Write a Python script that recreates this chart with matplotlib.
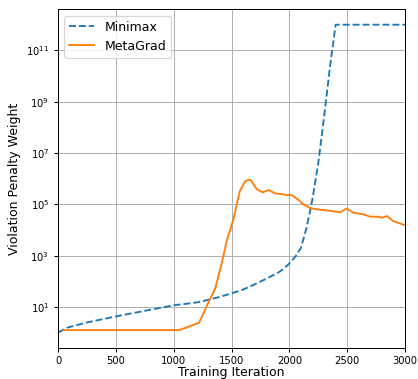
"""Violation penalty weight vs training iteration."""
import matplotlib
matplotlib.use("Agg")
import matplotlib.pyplot as plt
import numpy as np

# Minimax
minimax_iter = [0, 75, 250, 500, 750, 1000, 1100, 1200, 1300, 1400, 1500, 1600,
                1700, 1800, 1900, 1950, 2000, 2050, 2100, 2150, 2200, 2250, 2300,
                2350, 2400, 3000]
minimax_val = [1.0, 1.55, 2.5, 4.3, 7.1, 11.7, 13.2, 15.1, 19, 25, 34, 48,
               76, 126, 214, 302, 500, 890, 2000, 1.26e4, 1.6e5, 4e6, 2.5e8,
               2e10, 1e12, 1e12]

# MetaGrad
metagrad_iter = [50, 1050, 1220, 1310, 1360, 1415, 1460, 1515, 1570, 1615, 1640,
                 1665, 1720, 1770, 1820, 1875, 1935, 1975, 2020, 2080, 2120, 2190,
                 2250, 2350, 2440, 2495, 2555, 2640, 2700, 2770, 2800, 2845, 2900,
                 3000]
metagrad_val = [1.26, 1.26, 2.45, 18.6, 53.7, 501, 3980, 2.45e4, 3.1e5, 7.6e5,
                8.9e5, 8.9e5, 3.8e5, 2.95e5, 3.6e5, 2.7e5, 2.5e5, 2.3e5, 2.3e5,
                1.5e5, 1.0e5, 6.9e4, 6.3e4, 5.6e4, 4.9e4, 6.9e4, 4.7e4, 4.1e4,
                3.3e4, 3.3e4, 3.0e4, 3.5e4, 2.2e4, 1.55e4]

yticks = [1e1, 1e3, 1e5, 1e7, 1e9, 1e11]

DPI = 90
fig = plt.figure(figsize=(418 / DPI, 379 / DPI), dpi=DPI)
ax = fig.add_axes([58 / 418, 1 - 347.7 / 379, 347 / 418, 338.4 / 379])

ax.plot(minimax_iter, minimax_val, '--', color='tab:blue', label='Minimax')
ax.plot(metagrad_iter, metagrad_val, color='tab:orange', label='MetaGrad')

ax.set_yscale('log')
ax.set_xlim(0, 3000)
ax.set_ylim(10 ** -0.585, 10 ** 12.6)
ax.set_yticks(yticks)
ax.yaxis.set_minor_locator(matplotlib.ticker.NullLocator())
ax.tick_params(labelsize=8)
ax.grid(True)

ax.set_xlabel('Training Iteration', fontsize=10, labelpad=0)
ax.set_ylabel('Violation Penalty Weight', fontsize=10)
ax.legend(loc='upper left', fontsize=10)

fig.savefig('out.png', dpi=DPI)
